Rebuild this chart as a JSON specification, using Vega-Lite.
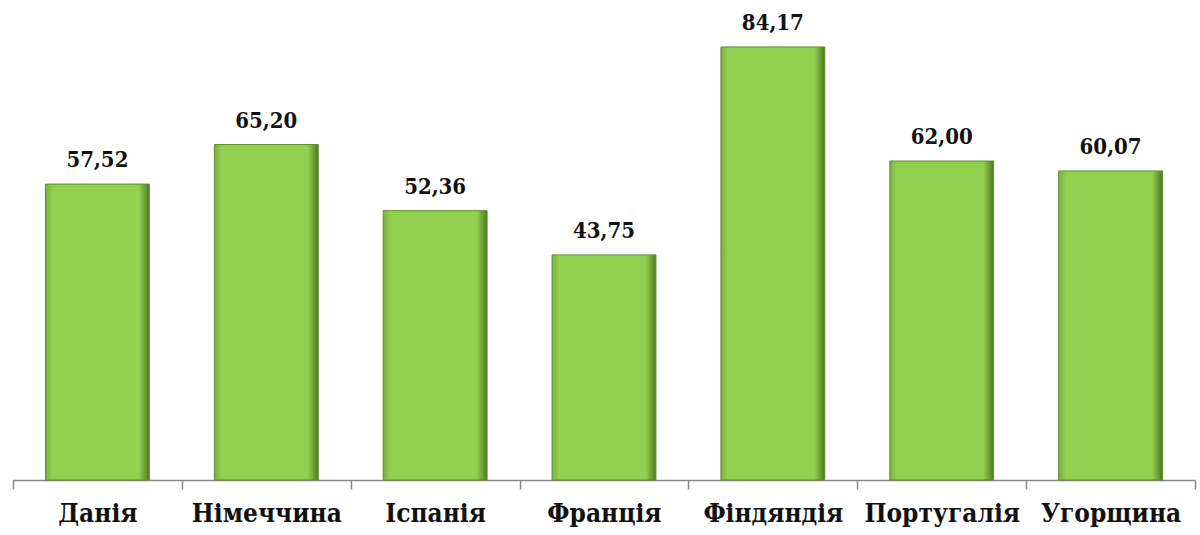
{
  "$schema": "https://vega.github.io/schema/vega-lite/v6.json",
  "width": 1182,
  "height": 463,
  "autosize": {"type": "none"},
  "padding": {"left": 13, "top": 17, "right": 5, "bottom": 55},
  "background": "white",
  "config": {
    "view": {"stroke": null},
    "locale": {"number": {"decimal": ",", "thousands": " ", "grouping": [3], "currency": ["", ""]}}
  },
  "data": {
    "values": [
      {"country": "Данія", "value": 57.52},
      {"country": "Німеччина", "value": 65.20},
      {"country": "Іспанія", "value": 52.36},
      {"country": "Франція", "value": 43.75},
      {"country": "Фіндяндія", "value": 84.17},
      {"country": "Португалія", "value": 62.00},
      {"country": "Угорщина", "value": 60.07}
    ]
  },
  "encoding": {
    "x": {
      "field": "country", "type": "nominal", "sort": null,
      "scale": {"paddingInner": 0, "paddingOuter": 0},
      "axis": {
        "title": null, "labelAngle": 0, "labelFont": "DejaVu Serif Condensed", "labelFontSize": 26,
        "labelFontWeight": "bold", "labelColor": "#111", "labelPadding": 11,
        "domainColor": "#888", "domainWidth": 1.5, "tickColor": "#888", "tickWidth": 1.5, "tickSize": 9,
        "tickBand": "extent", "grid": false
      }
    },
    "y": {
      "field": "value", "type": "quantitative",
      "scale": {"domain": [0, 90]},
      "axis": null
    }
  },
  "layer": [
    {
      "mark": {
        "type": "bar",
        "width": {"band": 0.615},
        "stroke": "#5f8a2a", "strokeWidth": 1,
        "color": {
          "gradient": "linear", "x1": 0, "y1": 0, "x2": 1, "y2": 0,
          "stops": [
            {"offset": 0, "color": "#7db043"},
            {"offset": 0.07, "color": "#92d050"},
            {"offset": 0.9, "color": "#92d050"},
            {"offset": 1, "color": "#4f7a22"}
          ]
        }
      }
    },
    {
      "mark": {
        "type": "text", "baseline": "alphabetic", "dy": -17,
        "font": "DejaVu Serif Condensed", "fontSize": 22, "fontWeight": "bold", "color": "#111"
      },
      "encoding": {"text": {"field": "value", "type": "quantitative", "format": ".2f"}}
    }
  ]
}
